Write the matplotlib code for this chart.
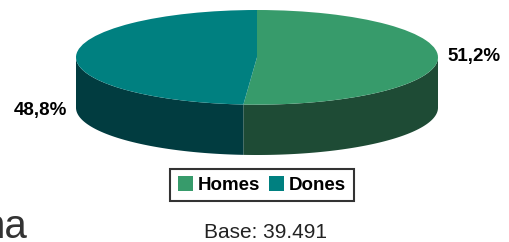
import numpy as np
import matplotlib.pyplot as plt
from matplotlib.patches import Patch

labels = ['Homes', 'Dones']
values = [51.2, 48.8]
pct_text = ['51,2%', '48,8%']
top_colors = ['#379b6b', '#008080']
side_colors = ['#1e4b35', '#013c40']
base_text = 'Base: 39.491'

W, H = 509, 242
fig = plt.figure(figsize=(W / 100, H / 100), dpi=100)

# pie axes: radius 1 -> ellipse, depth below
depth = 1.064
pie_ax = fig.add_axes([76 / W, (H - 155) / H, 362 / W, 145 / H])
wedges, _ = pie_ax.pie(values, colors=top_colors, startangle=90, counterclock=False,
                       radius=1, center=(0, 0), wedgeprops=dict(linewidth=0))
pie_ax.set_aspect('auto')
pie_ax.set_xlim(-1, 1)
pie_ax.set_ylim(-1 - depth, 1)
pie_ax.axis('off')

# side walls (front half only)
bounds = 90 - np.concatenate([[0], np.cumsum(values)]) / sum(values) * 360
for i in range(len(values)):
    hi, lo = bounds[i], bounds[i + 1]
    lo_c, hi_c = max(lo, -180), min(hi, 0)
    if lo_c >= hi_c:
        continue
    t = np.radians(np.linspace(lo_c, hi_c, 100))
    x = np.cos(t)
    y = np.sin(t)
    pie_ax.fill(np.concatenate([x, x[::-1]]), np.concatenate([y, (y - depth)[::-1]]),
                color=side_colors[i], lw=0, zorder=0)

# overlay axes in pixel coords for text
ax = fig.add_axes([0, 0, 1, 1], facecolor='none')
ax.set_xlim(0, W)
ax.set_ylim(H, 0)
ax.axis('off')

ax.text(447, 57, pct_text[0], ha='left', va='center', fontsize=13.5,
        fontweight='bold', family='Liberation Sans')
ax.text(67, 110, pct_text[1], ha='right', va='center', fontsize=13.5,
        fontweight='bold', family='Liberation Sans')

handles = [Patch(facecolor=c, edgecolor='none') for c in top_colors]
leg = ax.legend(handles, labels, loc='center', bbox_to_anchor=(262 / W, 1 - 185 / H),
                ncol=2, frameon=True, fancybox=False, edgecolor='black',
                handlelength=0.8, handleheight=0.8, handletextpad=0.25,
                columnspacing=0.5, borderpad=0.4, borderaxespad=0,
                prop={'family': 'Liberation Sans', 'weight': 'bold', 'size': 13.5})
leg.get_frame().set_linewidth(1.5)

ax.text(266, 232, base_text, ha='center', va='center', fontsize=15,
        family='Liberation Sans', color='#222222')
ax.text(27, 238, 'na', ha='right', va='baseline', fontsize=29,
        family='Liberation Sans', color='#333333')

fig.savefig('out.png', dpi=100)
